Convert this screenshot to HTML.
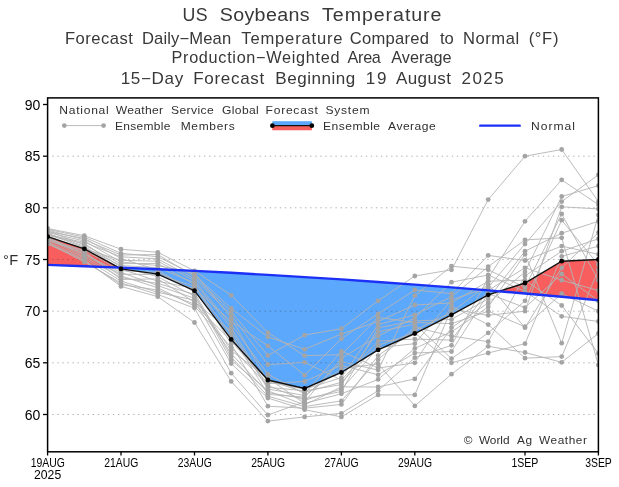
<!DOCTYPE html>
<html><head><meta charset="utf-8"><title>US Soybeans Temperature</title>
<style>html,body{margin:0;padding:0;background:#fff;}svg{display:block;}</style></head>
<body>
<svg width="619" height="487" viewBox="0 0 619 487">
<rect width="619" height="487" fill="#fff"/>
<polygon points="47.60,236.70 84.32,248.80 118.49,267.50 118.49,267.50 84.32,266.16 47.60,264.88" fill="#f95e5e"/>
<polygon points="118.49,267.50 121.04,268.90 157.76,274.10 194.48,290.70 231.20,339.40 267.92,380.00 304.64,388.50 341.36,372.50 378.08,349.90 414.80,333.50 451.52,314.80 488.24,294.80 499.08,291.32 499.08,291.32 488.24,290.40 451.52,287.43 414.80,284.61 378.08,281.95 341.36,279.44 304.64,277.09 267.92,274.88 231.20,272.83 194.48,270.94 157.76,269.19 121.04,267.60 118.49,267.50" fill="#5ca8fd"/>
<polygon points="499.08,291.32 524.96,283.00 561.68,261.20 598.40,259.50 598.40,300.22 561.68,296.79 524.96,293.52 499.08,291.32" fill="#f95e5e"/>
<line x1="52.25" y1="156.2" x2="598.4" y2="156.2" stroke="#444" stroke-width="0.7" stroke-dasharray="1.4 3.657" stroke-opacity="0.6"/>
<line x1="52.25" y1="207.8" x2="598.4" y2="207.8" stroke="#444" stroke-width="0.7" stroke-dasharray="1.4 3.657" stroke-opacity="0.6"/>
<line x1="52.25" y1="259.5" x2="598.4" y2="259.5" stroke="#444" stroke-width="0.7" stroke-dasharray="1.4 3.657" stroke-opacity="0.6"/>
<line x1="52.25" y1="311.2" x2="598.4" y2="311.2" stroke="#444" stroke-width="0.7" stroke-dasharray="1.4 3.657" stroke-opacity="0.6"/>
<line x1="52.25" y1="362.8" x2="598.4" y2="362.8" stroke="#444" stroke-width="0.7" stroke-dasharray="1.4 3.657" stroke-opacity="0.6"/>
<line x1="52.25" y1="414.5" x2="598.4" y2="414.5" stroke="#444" stroke-width="0.7" stroke-dasharray="1.4 3.657" stroke-opacity="0.6"/>
<g fill="none" stroke="#b4b4b4" stroke-width="0.9" stroke-linejoin="round">
<polyline points="47.6,228.5 84.3,235.7 121.0,249.2 157.8,252.3 194.5,270.9 231.2,295.3 267.9,332.6 304.6,355.7 341.4,354.6 378.1,317.4 414.8,322.5 451.5,323.6 488.2,311.2 525.0,326.7 561.7,293.6 598.4,311.2"/>
<polyline points="47.6,240.1 84.3,252.9 121.0,275.9 157.8,287.8 194.5,306.1 231.2,347.3 267.9,385.5 304.6,400.3 341.4,389.2 378.1,347.7 414.8,343.7 451.5,299.8 488.2,287.4 525.0,244.0 561.7,201.6 598.4,174.8"/>
<polyline points="47.6,235.5 84.3,243.6 121.0,267.2 157.8,276.7 194.5,296.3 231.2,350.5 267.9,378.3 304.6,403.4 341.4,393.8 378.1,379.4 414.8,348.4 451.5,331.8 488.2,307.0 525.0,254.3 561.7,343.2 598.4,215.1"/>
<polyline points="47.6,233.2 84.3,246.3 121.0,269.0 157.8,281.2 194.5,288.5 231.2,321.3 267.9,345.8 304.6,375.2 341.4,338.7 378.1,313.8 414.8,290.0 451.5,293.6 488.2,255.4 525.0,260.5 561.7,246.1 598.4,254.3"/>
<polyline points="47.6,241.7 84.3,258.1 121.0,281.1 157.8,292.3 194.5,300.2 231.2,363.5 267.9,398.0 304.6,409.7 341.4,416.9 378.1,394.9 414.8,394.9 451.5,309.1 488.2,315.3 525.0,311.2 561.7,206.8 598.4,208.9"/>
<polyline points="47.6,236.3 84.3,248.9 121.0,260.3 157.8,261.2 194.5,280.7 231.2,324.6 267.9,374.2 304.6,393.9 341.4,351.1 378.1,368.0 414.8,362.8 451.5,306.0 488.2,324.6 525.0,358.2 561.7,356.6 598.4,269.8"/>
<polyline points="47.6,237.0 84.3,254.2 121.0,272.4 157.8,285.6 194.5,298.3 231.2,353.7 267.9,392.6 304.6,398.7 341.4,391.5 378.1,327.7 414.8,321.0 451.5,319.4 488.2,298.8 525.0,251.2 561.7,233.2 598.4,221.3"/>
<polyline points="47.6,244.0 84.3,260.8 121.0,284.6 157.8,290.0 194.5,304.2 231.2,340.8 267.9,383.7 304.6,381.4 341.4,365.3 378.1,374.8 414.8,353.0 451.5,351.5 488.2,293.6 525.0,307.6 561.7,274.0 598.4,300.8"/>
<polyline points="47.6,230.1 84.3,239.7 121.0,255.0 157.8,254.5 194.5,276.7 231.2,311.6 267.9,355.4 304.6,335.1 341.4,328.7 378.1,300.8 414.8,276.0 451.5,269.8 488.2,199.6 525.0,156.2 561.7,149.5 598.4,201.6"/>
<polyline points="47.6,230.8 84.3,245.0 121.0,263.7 157.8,263.4 194.5,284.6 231.2,344.0 267.9,406.2 304.6,408.2 341.4,404.4 378.1,355.6 414.8,330.3 451.5,312.2 488.2,284.3 525.0,327.7 561.7,267.8 598.4,232.6"/>
<polyline points="47.6,240.9 84.3,250.2 121.0,270.7 157.8,272.3 194.5,290.4 231.2,337.5 267.9,380.1 304.6,392.3 341.4,382.3 378.1,345.3 414.8,332.9 451.5,362.8 488.2,353.0 525.0,343.7 561.7,256.4 598.4,246.1"/>
<polyline points="47.6,237.8 84.3,255.5 121.0,274.2 157.8,274.5 194.5,286.5 231.2,334.3 267.9,394.4 304.6,397.1 341.4,361.7 378.1,370.1 414.8,295.7 451.5,266.2 488.2,269.8 525.0,287.4 561.7,214.0 598.4,280.2"/>
<polyline points="47.6,232.4 84.3,241.0 121.0,262.0 157.8,265.6 194.5,272.8 231.2,318.1 267.9,381.9 304.6,389.2 341.4,377.7 378.1,324.6 414.8,314.8 451.5,296.7 488.2,266.7 525.0,239.9 561.7,237.8 598.4,364.9"/>
<polyline points="47.6,239.4 84.3,256.8 121.0,277.7 157.8,283.4 194.5,294.4 231.2,360.2 267.9,390.8 304.6,405.0 341.4,386.9 378.1,387.0 414.8,378.9 451.5,327.7 488.2,302.9 525.0,271.9 561.7,196.5 598.4,185.6"/>
<polyline points="47.6,238.6 84.3,251.5 121.0,279.4 157.8,278.9 194.5,302.2 231.2,331.1 267.9,389.0 304.6,395.5 341.4,368.8 378.1,363.9 414.8,405.9 451.5,374.2 488.2,346.3 525.0,352.5 561.7,362.3 598.4,333.4"/>
<polyline points="47.6,242.5 84.3,262.1 121.0,282.9 157.8,294.5 194.5,308.1 231.2,373.2 267.9,415.0 304.6,401.8 341.4,358.2 378.1,336.0 414.8,317.9 451.5,282.2 488.2,275.0 525.0,291.5 561.7,316.3 598.4,321.5"/>
<polyline points="47.6,231.6 84.3,238.4 121.0,258.5 157.8,270.0 194.5,292.4 231.2,357.0 267.9,396.2 304.6,406.6 341.4,400.9 378.1,359.7 414.8,327.2 451.5,336.0 488.2,341.7 525.0,276.0 561.7,251.2 598.4,238.8"/>
<polyline points="47.6,234.7 84.3,242.3 121.0,256.8 157.8,258.9 194.5,278.7 231.2,314.9 267.9,364.6 304.6,362.4 341.4,380.0 378.1,341.1 414.8,339.1 451.5,340.1 488.2,290.5 525.0,267.8 561.7,280.2 598.4,290.5"/>
<polyline points="47.6,233.9 84.3,247.6 121.0,265.5 157.8,267.8 194.5,282.6 231.2,327.8 267.9,387.3 304.6,390.8 341.4,384.6 378.1,331.8 414.8,324.1 451.5,358.7 488.2,332.9 525.0,300.8 561.7,220.2 598.4,264.7"/>
<polyline points="47.6,243.2 84.3,259.5 121.0,286.4 157.8,296.7 194.5,322.5 231.2,381.4 267.9,421.1 304.6,416.9 341.4,413.3 378.1,390.7 414.8,357.7 451.5,345.3 488.2,278.1 525.0,221.3 561.7,179.9 598.4,204.7"/>
<polyline points="47.6,229.3 84.3,237.1 121.0,253.3 157.8,256.7 194.5,274.8 231.2,308.4 267.9,336.9 304.6,349.3 341.4,334.0 378.1,321.5 414.8,305.0 451.5,302.9 488.2,281.2 525.0,280.2 561.7,305.5 598.4,353.5"/>
</g>
<g fill="#a4a4a4">
<circle cx="47.6" cy="228.5" r="2.4"/>
<circle cx="84.3" cy="235.7" r="2.4"/>
<circle cx="121.0" cy="249.2" r="2.4"/>
<circle cx="157.8" cy="252.3" r="2.4"/>
<circle cx="194.5" cy="270.9" r="2.4"/>
<circle cx="231.2" cy="295.3" r="2.4"/>
<circle cx="267.9" cy="332.6" r="2.4"/>
<circle cx="304.6" cy="355.7" r="2.4"/>
<circle cx="341.4" cy="354.6" r="2.4"/>
<circle cx="378.1" cy="317.4" r="2.4"/>
<circle cx="414.8" cy="322.5" r="2.4"/>
<circle cx="451.5" cy="323.6" r="2.4"/>
<circle cx="488.2" cy="311.2" r="2.4"/>
<circle cx="525.0" cy="326.7" r="2.4"/>
<circle cx="561.7" cy="293.6" r="2.4"/>
<circle cx="598.4" cy="311.2" r="2.4"/>
<circle cx="47.6" cy="240.1" r="2.4"/>
<circle cx="84.3" cy="252.9" r="2.4"/>
<circle cx="121.0" cy="275.9" r="2.4"/>
<circle cx="157.8" cy="287.8" r="2.4"/>
<circle cx="194.5" cy="306.1" r="2.4"/>
<circle cx="231.2" cy="347.3" r="2.4"/>
<circle cx="267.9" cy="385.5" r="2.4"/>
<circle cx="304.6" cy="400.3" r="2.4"/>
<circle cx="341.4" cy="389.2" r="2.4"/>
<circle cx="378.1" cy="347.7" r="2.4"/>
<circle cx="414.8" cy="343.7" r="2.4"/>
<circle cx="451.5" cy="299.8" r="2.4"/>
<circle cx="488.2" cy="287.4" r="2.4"/>
<circle cx="525.0" cy="244.0" r="2.4"/>
<circle cx="561.7" cy="201.6" r="2.4"/>
<circle cx="598.4" cy="174.8" r="2.4"/>
<circle cx="47.6" cy="235.5" r="2.4"/>
<circle cx="84.3" cy="243.6" r="2.4"/>
<circle cx="121.0" cy="267.2" r="2.4"/>
<circle cx="157.8" cy="276.7" r="2.4"/>
<circle cx="194.5" cy="296.3" r="2.4"/>
<circle cx="231.2" cy="350.5" r="2.4"/>
<circle cx="267.9" cy="378.3" r="2.4"/>
<circle cx="304.6" cy="403.4" r="2.4"/>
<circle cx="341.4" cy="393.8" r="2.4"/>
<circle cx="378.1" cy="379.4" r="2.4"/>
<circle cx="414.8" cy="348.4" r="2.4"/>
<circle cx="451.5" cy="331.8" r="2.4"/>
<circle cx="488.2" cy="307.0" r="2.4"/>
<circle cx="525.0" cy="254.3" r="2.4"/>
<circle cx="561.7" cy="343.2" r="2.4"/>
<circle cx="598.4" cy="215.1" r="2.4"/>
<circle cx="47.6" cy="233.2" r="2.4"/>
<circle cx="84.3" cy="246.3" r="2.4"/>
<circle cx="121.0" cy="269.0" r="2.4"/>
<circle cx="157.8" cy="281.2" r="2.4"/>
<circle cx="194.5" cy="288.5" r="2.4"/>
<circle cx="231.2" cy="321.3" r="2.4"/>
<circle cx="267.9" cy="345.8" r="2.4"/>
<circle cx="304.6" cy="375.2" r="2.4"/>
<circle cx="341.4" cy="338.7" r="2.4"/>
<circle cx="378.1" cy="313.8" r="2.4"/>
<circle cx="414.8" cy="290.0" r="2.4"/>
<circle cx="451.5" cy="293.6" r="2.4"/>
<circle cx="488.2" cy="255.4" r="2.4"/>
<circle cx="525.0" cy="260.5" r="2.4"/>
<circle cx="561.7" cy="246.1" r="2.4"/>
<circle cx="598.4" cy="254.3" r="2.4"/>
<circle cx="47.6" cy="241.7" r="2.4"/>
<circle cx="84.3" cy="258.1" r="2.4"/>
<circle cx="121.0" cy="281.1" r="2.4"/>
<circle cx="157.8" cy="292.3" r="2.4"/>
<circle cx="194.5" cy="300.2" r="2.4"/>
<circle cx="231.2" cy="363.5" r="2.4"/>
<circle cx="267.9" cy="398.0" r="2.4"/>
<circle cx="304.6" cy="409.7" r="2.4"/>
<circle cx="341.4" cy="416.9" r="2.4"/>
<circle cx="378.1" cy="394.9" r="2.4"/>
<circle cx="414.8" cy="394.9" r="2.4"/>
<circle cx="451.5" cy="309.1" r="2.4"/>
<circle cx="488.2" cy="315.3" r="2.4"/>
<circle cx="525.0" cy="311.2" r="2.4"/>
<circle cx="561.7" cy="206.8" r="2.4"/>
<circle cx="598.4" cy="208.9" r="2.4"/>
<circle cx="47.6" cy="236.3" r="2.4"/>
<circle cx="84.3" cy="248.9" r="2.4"/>
<circle cx="121.0" cy="260.3" r="2.4"/>
<circle cx="157.8" cy="261.2" r="2.4"/>
<circle cx="194.5" cy="280.7" r="2.4"/>
<circle cx="231.2" cy="324.6" r="2.4"/>
<circle cx="267.9" cy="374.2" r="2.4"/>
<circle cx="304.6" cy="393.9" r="2.4"/>
<circle cx="341.4" cy="351.1" r="2.4"/>
<circle cx="378.1" cy="368.0" r="2.4"/>
<circle cx="414.8" cy="362.8" r="2.4"/>
<circle cx="451.5" cy="306.0" r="2.4"/>
<circle cx="488.2" cy="324.6" r="2.4"/>
<circle cx="525.0" cy="358.2" r="2.4"/>
<circle cx="561.7" cy="356.6" r="2.4"/>
<circle cx="598.4" cy="269.8" r="2.4"/>
<circle cx="47.6" cy="237.0" r="2.4"/>
<circle cx="84.3" cy="254.2" r="2.4"/>
<circle cx="121.0" cy="272.4" r="2.4"/>
<circle cx="157.8" cy="285.6" r="2.4"/>
<circle cx="194.5" cy="298.3" r="2.4"/>
<circle cx="231.2" cy="353.7" r="2.4"/>
<circle cx="267.9" cy="392.6" r="2.4"/>
<circle cx="304.6" cy="398.7" r="2.4"/>
<circle cx="341.4" cy="391.5" r="2.4"/>
<circle cx="378.1" cy="327.7" r="2.4"/>
<circle cx="414.8" cy="321.0" r="2.4"/>
<circle cx="451.5" cy="319.4" r="2.4"/>
<circle cx="488.2" cy="298.8" r="2.4"/>
<circle cx="525.0" cy="251.2" r="2.4"/>
<circle cx="561.7" cy="233.2" r="2.4"/>
<circle cx="598.4" cy="221.3" r="2.4"/>
<circle cx="47.6" cy="244.0" r="2.4"/>
<circle cx="84.3" cy="260.8" r="2.4"/>
<circle cx="121.0" cy="284.6" r="2.4"/>
<circle cx="157.8" cy="290.0" r="2.4"/>
<circle cx="194.5" cy="304.2" r="2.4"/>
<circle cx="231.2" cy="340.8" r="2.4"/>
<circle cx="267.9" cy="383.7" r="2.4"/>
<circle cx="304.6" cy="381.4" r="2.4"/>
<circle cx="341.4" cy="365.3" r="2.4"/>
<circle cx="378.1" cy="374.8" r="2.4"/>
<circle cx="414.8" cy="353.0" r="2.4"/>
<circle cx="451.5" cy="351.5" r="2.4"/>
<circle cx="488.2" cy="293.6" r="2.4"/>
<circle cx="525.0" cy="307.6" r="2.4"/>
<circle cx="561.7" cy="274.0" r="2.4"/>
<circle cx="598.4" cy="300.8" r="2.4"/>
<circle cx="47.6" cy="230.1" r="2.4"/>
<circle cx="84.3" cy="239.7" r="2.4"/>
<circle cx="121.0" cy="255.0" r="2.4"/>
<circle cx="157.8" cy="254.5" r="2.4"/>
<circle cx="194.5" cy="276.7" r="2.4"/>
<circle cx="231.2" cy="311.6" r="2.4"/>
<circle cx="267.9" cy="355.4" r="2.4"/>
<circle cx="304.6" cy="335.1" r="2.4"/>
<circle cx="341.4" cy="328.7" r="2.4"/>
<circle cx="378.1" cy="300.8" r="2.4"/>
<circle cx="414.8" cy="276.0" r="2.4"/>
<circle cx="451.5" cy="269.8" r="2.4"/>
<circle cx="488.2" cy="199.6" r="2.4"/>
<circle cx="525.0" cy="156.2" r="2.4"/>
<circle cx="561.7" cy="149.5" r="2.4"/>
<circle cx="598.4" cy="201.6" r="2.4"/>
<circle cx="47.6" cy="230.8" r="2.4"/>
<circle cx="84.3" cy="245.0" r="2.4"/>
<circle cx="121.0" cy="263.7" r="2.4"/>
<circle cx="157.8" cy="263.4" r="2.4"/>
<circle cx="194.5" cy="284.6" r="2.4"/>
<circle cx="231.2" cy="344.0" r="2.4"/>
<circle cx="267.9" cy="406.2" r="2.4"/>
<circle cx="304.6" cy="408.2" r="2.4"/>
<circle cx="341.4" cy="404.4" r="2.4"/>
<circle cx="378.1" cy="355.6" r="2.4"/>
<circle cx="414.8" cy="330.3" r="2.4"/>
<circle cx="451.5" cy="312.2" r="2.4"/>
<circle cx="488.2" cy="284.3" r="2.4"/>
<circle cx="525.0" cy="327.7" r="2.4"/>
<circle cx="561.7" cy="267.8" r="2.4"/>
<circle cx="598.4" cy="232.6" r="2.4"/>
<circle cx="47.6" cy="240.9" r="2.4"/>
<circle cx="84.3" cy="250.2" r="2.4"/>
<circle cx="121.0" cy="270.7" r="2.4"/>
<circle cx="157.8" cy="272.3" r="2.4"/>
<circle cx="194.5" cy="290.4" r="2.4"/>
<circle cx="231.2" cy="337.5" r="2.4"/>
<circle cx="267.9" cy="380.1" r="2.4"/>
<circle cx="304.6" cy="392.3" r="2.4"/>
<circle cx="341.4" cy="382.3" r="2.4"/>
<circle cx="378.1" cy="345.3" r="2.4"/>
<circle cx="414.8" cy="332.9" r="2.4"/>
<circle cx="451.5" cy="362.8" r="2.4"/>
<circle cx="488.2" cy="353.0" r="2.4"/>
<circle cx="525.0" cy="343.7" r="2.4"/>
<circle cx="561.7" cy="256.4" r="2.4"/>
<circle cx="598.4" cy="246.1" r="2.4"/>
<circle cx="47.6" cy="237.8" r="2.4"/>
<circle cx="84.3" cy="255.5" r="2.4"/>
<circle cx="121.0" cy="274.2" r="2.4"/>
<circle cx="157.8" cy="274.5" r="2.4"/>
<circle cx="194.5" cy="286.5" r="2.4"/>
<circle cx="231.2" cy="334.3" r="2.4"/>
<circle cx="267.9" cy="394.4" r="2.4"/>
<circle cx="304.6" cy="397.1" r="2.4"/>
<circle cx="341.4" cy="361.7" r="2.4"/>
<circle cx="378.1" cy="370.1" r="2.4"/>
<circle cx="414.8" cy="295.7" r="2.4"/>
<circle cx="451.5" cy="266.2" r="2.4"/>
<circle cx="488.2" cy="269.8" r="2.4"/>
<circle cx="525.0" cy="287.4" r="2.4"/>
<circle cx="561.7" cy="214.0" r="2.4"/>
<circle cx="598.4" cy="280.2" r="2.4"/>
<circle cx="47.6" cy="232.4" r="2.4"/>
<circle cx="84.3" cy="241.0" r="2.4"/>
<circle cx="121.0" cy="262.0" r="2.4"/>
<circle cx="157.8" cy="265.6" r="2.4"/>
<circle cx="194.5" cy="272.8" r="2.4"/>
<circle cx="231.2" cy="318.1" r="2.4"/>
<circle cx="267.9" cy="381.9" r="2.4"/>
<circle cx="304.6" cy="389.2" r="2.4"/>
<circle cx="341.4" cy="377.7" r="2.4"/>
<circle cx="378.1" cy="324.6" r="2.4"/>
<circle cx="414.8" cy="314.8" r="2.4"/>
<circle cx="451.5" cy="296.7" r="2.4"/>
<circle cx="488.2" cy="266.7" r="2.4"/>
<circle cx="525.0" cy="239.9" r="2.4"/>
<circle cx="561.7" cy="237.8" r="2.4"/>
<circle cx="598.4" cy="364.9" r="2.4"/>
<circle cx="47.6" cy="239.4" r="2.4"/>
<circle cx="84.3" cy="256.8" r="2.4"/>
<circle cx="121.0" cy="277.7" r="2.4"/>
<circle cx="157.8" cy="283.4" r="2.4"/>
<circle cx="194.5" cy="294.4" r="2.4"/>
<circle cx="231.2" cy="360.2" r="2.4"/>
<circle cx="267.9" cy="390.8" r="2.4"/>
<circle cx="304.6" cy="405.0" r="2.4"/>
<circle cx="341.4" cy="386.9" r="2.4"/>
<circle cx="378.1" cy="387.0" r="2.4"/>
<circle cx="414.8" cy="378.9" r="2.4"/>
<circle cx="451.5" cy="327.7" r="2.4"/>
<circle cx="488.2" cy="302.9" r="2.4"/>
<circle cx="525.0" cy="271.9" r="2.4"/>
<circle cx="561.7" cy="196.5" r="2.4"/>
<circle cx="598.4" cy="185.6" r="2.4"/>
<circle cx="47.6" cy="238.6" r="2.4"/>
<circle cx="84.3" cy="251.5" r="2.4"/>
<circle cx="121.0" cy="279.4" r="2.4"/>
<circle cx="157.8" cy="278.9" r="2.4"/>
<circle cx="194.5" cy="302.2" r="2.4"/>
<circle cx="231.2" cy="331.1" r="2.4"/>
<circle cx="267.9" cy="389.0" r="2.4"/>
<circle cx="304.6" cy="395.5" r="2.4"/>
<circle cx="341.4" cy="368.8" r="2.4"/>
<circle cx="378.1" cy="363.9" r="2.4"/>
<circle cx="414.8" cy="405.9" r="2.4"/>
<circle cx="451.5" cy="374.2" r="2.4"/>
<circle cx="488.2" cy="346.3" r="2.4"/>
<circle cx="525.0" cy="352.5" r="2.4"/>
<circle cx="561.7" cy="362.3" r="2.4"/>
<circle cx="598.4" cy="333.4" r="2.4"/>
<circle cx="47.6" cy="242.5" r="2.4"/>
<circle cx="84.3" cy="262.1" r="2.4"/>
<circle cx="121.0" cy="282.9" r="2.4"/>
<circle cx="157.8" cy="294.5" r="2.4"/>
<circle cx="194.5" cy="308.1" r="2.4"/>
<circle cx="231.2" cy="373.2" r="2.4"/>
<circle cx="267.9" cy="415.0" r="2.4"/>
<circle cx="304.6" cy="401.8" r="2.4"/>
<circle cx="341.4" cy="358.2" r="2.4"/>
<circle cx="378.1" cy="336.0" r="2.4"/>
<circle cx="414.8" cy="317.9" r="2.4"/>
<circle cx="451.5" cy="282.2" r="2.4"/>
<circle cx="488.2" cy="275.0" r="2.4"/>
<circle cx="525.0" cy="291.5" r="2.4"/>
<circle cx="561.7" cy="316.3" r="2.4"/>
<circle cx="598.4" cy="321.5" r="2.4"/>
<circle cx="47.6" cy="231.6" r="2.4"/>
<circle cx="84.3" cy="238.4" r="2.4"/>
<circle cx="121.0" cy="258.5" r="2.4"/>
<circle cx="157.8" cy="270.0" r="2.4"/>
<circle cx="194.5" cy="292.4" r="2.4"/>
<circle cx="231.2" cy="357.0" r="2.4"/>
<circle cx="267.9" cy="396.2" r="2.4"/>
<circle cx="304.6" cy="406.6" r="2.4"/>
<circle cx="341.4" cy="400.9" r="2.4"/>
<circle cx="378.1" cy="359.7" r="2.4"/>
<circle cx="414.8" cy="327.2" r="2.4"/>
<circle cx="451.5" cy="336.0" r="2.4"/>
<circle cx="488.2" cy="341.7" r="2.4"/>
<circle cx="525.0" cy="276.0" r="2.4"/>
<circle cx="561.7" cy="251.2" r="2.4"/>
<circle cx="598.4" cy="238.8" r="2.4"/>
<circle cx="47.6" cy="234.7" r="2.4"/>
<circle cx="84.3" cy="242.3" r="2.4"/>
<circle cx="121.0" cy="256.8" r="2.4"/>
<circle cx="157.8" cy="258.9" r="2.4"/>
<circle cx="194.5" cy="278.7" r="2.4"/>
<circle cx="231.2" cy="314.9" r="2.4"/>
<circle cx="267.9" cy="364.6" r="2.4"/>
<circle cx="304.6" cy="362.4" r="2.4"/>
<circle cx="341.4" cy="380.0" r="2.4"/>
<circle cx="378.1" cy="341.1" r="2.4"/>
<circle cx="414.8" cy="339.1" r="2.4"/>
<circle cx="451.5" cy="340.1" r="2.4"/>
<circle cx="488.2" cy="290.5" r="2.4"/>
<circle cx="525.0" cy="267.8" r="2.4"/>
<circle cx="561.7" cy="280.2" r="2.4"/>
<circle cx="598.4" cy="290.5" r="2.4"/>
<circle cx="47.6" cy="233.9" r="2.4"/>
<circle cx="84.3" cy="247.6" r="2.4"/>
<circle cx="121.0" cy="265.5" r="2.4"/>
<circle cx="157.8" cy="267.8" r="2.4"/>
<circle cx="194.5" cy="282.6" r="2.4"/>
<circle cx="231.2" cy="327.8" r="2.4"/>
<circle cx="267.9" cy="387.3" r="2.4"/>
<circle cx="304.6" cy="390.8" r="2.4"/>
<circle cx="341.4" cy="384.6" r="2.4"/>
<circle cx="378.1" cy="331.8" r="2.4"/>
<circle cx="414.8" cy="324.1" r="2.4"/>
<circle cx="451.5" cy="358.7" r="2.4"/>
<circle cx="488.2" cy="332.9" r="2.4"/>
<circle cx="525.0" cy="300.8" r="2.4"/>
<circle cx="561.7" cy="220.2" r="2.4"/>
<circle cx="598.4" cy="264.7" r="2.4"/>
<circle cx="47.6" cy="243.2" r="2.4"/>
<circle cx="84.3" cy="259.5" r="2.4"/>
<circle cx="121.0" cy="286.4" r="2.4"/>
<circle cx="157.8" cy="296.7" r="2.4"/>
<circle cx="194.5" cy="322.5" r="2.4"/>
<circle cx="231.2" cy="381.4" r="2.4"/>
<circle cx="267.9" cy="421.1" r="2.4"/>
<circle cx="304.6" cy="416.9" r="2.4"/>
<circle cx="341.4" cy="413.3" r="2.4"/>
<circle cx="378.1" cy="390.7" r="2.4"/>
<circle cx="414.8" cy="357.7" r="2.4"/>
<circle cx="451.5" cy="345.3" r="2.4"/>
<circle cx="488.2" cy="278.1" r="2.4"/>
<circle cx="525.0" cy="221.3" r="2.4"/>
<circle cx="561.7" cy="179.9" r="2.4"/>
<circle cx="598.4" cy="204.7" r="2.4"/>
<circle cx="47.6" cy="229.3" r="2.4"/>
<circle cx="84.3" cy="237.1" r="2.4"/>
<circle cx="121.0" cy="253.3" r="2.4"/>
<circle cx="157.8" cy="256.7" r="2.4"/>
<circle cx="194.5" cy="274.8" r="2.4"/>
<circle cx="231.2" cy="308.4" r="2.4"/>
<circle cx="267.9" cy="336.9" r="2.4"/>
<circle cx="304.6" cy="349.3" r="2.4"/>
<circle cx="341.4" cy="334.0" r="2.4"/>
<circle cx="378.1" cy="321.5" r="2.4"/>
<circle cx="414.8" cy="305.0" r="2.4"/>
<circle cx="451.5" cy="302.9" r="2.4"/>
<circle cx="488.2" cy="281.2" r="2.4"/>
<circle cx="525.0" cy="280.2" r="2.4"/>
<circle cx="561.7" cy="305.5" r="2.4"/>
<circle cx="598.4" cy="353.5" r="2.4"/>
</g>
<polyline points="47.6,236.7 84.3,248.8 121.0,268.9 157.8,274.1 194.5,290.7 231.2,339.4 267.9,380.0 304.6,388.5 341.4,372.5 378.1,349.9 414.8,333.5 451.5,314.8 488.2,294.8 525.0,283.0 561.7,261.2 598.4,259.5" fill="none" stroke="#111" stroke-width="1.4"/>
<polyline points="47.6,264.9 84.3,266.2 121.0,267.6 157.8,269.2 194.5,270.9 231.2,272.8 267.9,274.9 304.6,277.1 341.4,279.4 378.1,282.0 414.8,284.6 451.5,287.4 488.2,290.4 525.0,293.5 561.7,296.8 598.4,300.2" fill="none" stroke="#1c30f5" stroke-width="2.4"/>
<circle cx="47.6" cy="236.7" r="2.4" fill="#000"/>
<circle cx="84.3" cy="248.8" r="2.4" fill="#000"/>
<circle cx="121.0" cy="268.9" r="2.4" fill="#000"/>
<circle cx="157.8" cy="274.1" r="2.4" fill="#000"/>
<circle cx="194.5" cy="290.7" r="2.4" fill="#000"/>
<circle cx="231.2" cy="339.4" r="2.4" fill="#000"/>
<circle cx="267.9" cy="380.0" r="2.4" fill="#000"/>
<circle cx="304.6" cy="388.5" r="2.4" fill="#000"/>
<circle cx="341.4" cy="372.5" r="2.4" fill="#000"/>
<circle cx="378.1" cy="349.9" r="2.4" fill="#000"/>
<circle cx="414.8" cy="333.5" r="2.4" fill="#000"/>
<circle cx="451.5" cy="314.8" r="2.4" fill="#000"/>
<circle cx="488.2" cy="294.8" r="2.4" fill="#000"/>
<circle cx="525.0" cy="283.0" r="2.4" fill="#000"/>
<circle cx="561.7" cy="261.2" r="2.4" fill="#000"/>
<circle cx="598.4" cy="259.5" r="2.4" fill="#000"/>
<rect x="0" y="97.9" width="47.6" height="353.9" fill="#fff"/>
<rect x="598.4" y="97.9" width="20.600000000000023" height="353.9" fill="#fff"/>
<rect x="47.6" y="97.9" width="550.8" height="353.9" fill="none" stroke="#000" stroke-width="1.5"/>
<line x1="43" y1="104.5" x2="47.6" y2="104.5" stroke="#000" stroke-width="1.3"/>
<line x1="43" y1="156.2" x2="47.6" y2="156.2" stroke="#000" stroke-width="1.3"/>
<line x1="43" y1="207.8" x2="47.6" y2="207.8" stroke="#000" stroke-width="1.3"/>
<line x1="43" y1="259.5" x2="47.6" y2="259.5" stroke="#000" stroke-width="1.3"/>
<line x1="43" y1="311.2" x2="47.6" y2="311.2" stroke="#000" stroke-width="1.3"/>
<line x1="43" y1="362.8" x2="47.6" y2="362.8" stroke="#000" stroke-width="1.3"/>
<line x1="43" y1="414.5" x2="47.6" y2="414.5" stroke="#000" stroke-width="1.3"/>
<line x1="47.6" y1="451.8" x2="47.6" y2="455.5" stroke="#000" stroke-width="1.3"/>
<line x1="121.0" y1="451.8" x2="121.0" y2="455.5" stroke="#000" stroke-width="1.3"/>
<line x1="194.5" y1="451.8" x2="194.5" y2="455.5" stroke="#000" stroke-width="1.3"/>
<line x1="267.9" y1="451.8" x2="267.9" y2="455.5" stroke="#000" stroke-width="1.3"/>
<line x1="341.4" y1="451.8" x2="341.4" y2="455.5" stroke="#000" stroke-width="1.3"/>
<line x1="414.8" y1="451.8" x2="414.8" y2="455.5" stroke="#000" stroke-width="1.3"/>
<line x1="525.0" y1="451.8" x2="525.0" y2="455.5" stroke="#000" stroke-width="1.3"/>
<line x1="598.4" y1="451.8" x2="598.4" y2="455.5" stroke="#000" stroke-width="1.3"/>
<g font-family="'Liberation Sans', sans-serif">
<text transform="translate(0,20.7) scale(0.94,1)" font-size="18.9" fill="#383838"><tspan x="194.24" letter-spacing="0.294">US</tspan></text>
<text transform="translate(0,20.7) scale(1.04,1)" font-size="18.9" fill="#383838"><tspan x="211.24" letter-spacing="0.344">Soybeans</tspan> <tspan x="309.70" letter-spacing="0.881">Temperature</tspan></text>
<text transform="translate(0,43.6) scale(1.03,1)" font-size="16.1" fill="#383838"><tspan x="63.11" letter-spacing="0.462">Forecast</tspan> <tspan x="137.87" letter-spacing="0.130">Daily−Mean</tspan> <tspan x="234.31" letter-spacing="0.790">Temperature</tspan> <tspan x="339.54" letter-spacing="0.261">Compared</tspan> <tspan x="427.09" letter-spacing="-0.056">to</tspan> <tspan x="449.42" letter-spacing="0.553">Normal</tspan> <tspan x="513.23" letter-spacing="0.657">(°F)</tspan></text>
<text transform="translate(0,63.3) scale(1.01,1)" font-size="16.1" fill="#383838"><tspan x="169.83" letter-spacing="0.679">Production−Weighted</tspan> <tspan x="344.16" letter-spacing="-0.347">Area</tspan> <tspan x="387.33" letter-spacing="0.031">Average</tspan></text>
<text transform="translate(0,83.5) scale(1.06,1)" font-size="16.1" fill="#383838"><tspan x="113.90" letter-spacing="0.617">15−Day</tspan> <tspan x="182.33" letter-spacing="0.632">Forecast</tspan> <tspan x="259.78" letter-spacing="0.469">Beginning</tspan> <tspan x="344.94" letter-spacing="1.770">19</tspan> <tspan x="373.58" letter-spacing="0.342">August</tspan> <tspan x="435.38" letter-spacing="1.329">2025</tspan></text>
<text transform="translate(0,114.3) scale(1.08,1)" font-size="11.2" fill="#303030"><tspan x="54.87" letter-spacing="0.683">National</tspan> <tspan x="107.13" letter-spacing="0.288">Weather</tspan> <tspan x="158.26" letter-spacing="0.391">Service</tspan> <tspan x="205.59" letter-spacing="0.333">Global</tspan> <tspan x="245.88" letter-spacing="0.694">Forecast</tspan> <tspan x="301.41" letter-spacing="0.681">System</tspan></text>
<text transform="translate(0,129.8) scale(1.07,1)" font-size="11.2" fill="#303030"><tspan x="107.44" letter-spacing="0.298">Ensemble</tspan> <tspan x="168.84" letter-spacing="0.649">Members</tspan></text>
<text transform="translate(0,129.8) scale(1.08,1)" font-size="11.2" fill="#303030"><tspan x="299.12" letter-spacing="0.429">Ensemble</tspan> <tspan x="359.35" letter-spacing="0.425">Average</tspan></text>
<text transform="translate(0,129.8) scale(1.08,1)" font-size="11.2" fill="#303030"><tspan x="491.62" letter-spacing="0.956">Normal</tspan></text>
<text transform="translate(0,444.3) scale(1.06,1)" font-size="11.2" fill="#303030"><tspan x="437.44" letter-spacing="0.000">©</tspan> <tspan x="451.79" letter-spacing="-0.028">World</tspan> <tspan x="487.83" letter-spacing="0.420">Ag</tspan> <tspan x="508.58" letter-spacing="0.504">Weather</tspan></text>
<text transform="translate(0,265.3) scale(1.05,1)" font-size="14" fill="#303030"><tspan x="2.77" letter-spacing="0.488">°F</tspan></text>
<text x="40.4" y="109.7" font-size="14.0" text-anchor="end" fill="#000">90</text>
<text x="40.4" y="161.4" font-size="14.0" text-anchor="end" fill="#000">85</text>
<text x="40.4" y="213.0" font-size="14.0" text-anchor="end" fill="#000">80</text>
<text x="40.4" y="264.7" font-size="14.0" text-anchor="end" fill="#000">75</text>
<text x="40.4" y="316.4" font-size="14.0" text-anchor="end" fill="#000">70</text>
<text x="40.4" y="368.0" font-size="14.0" text-anchor="end" fill="#000">65</text>
<text x="40.4" y="419.7" font-size="14.0" text-anchor="end" fill="#000">60</text>
<text transform="translate(30.65,467.0) scale(0.8699,1)" font-size="12" fill="#000">19AUG</text>
<text transform="translate(104.25,467.0) scale(0.8656,1)" font-size="12" fill="#000">21AUG</text>
<text transform="translate(177.69,467.0) scale(0.8656,1)" font-size="12" fill="#000">23AUG</text>
<text transform="translate(251.13,467.0) scale(0.8656,1)" font-size="12" fill="#000">25AUG</text>
<text transform="translate(324.57,467.0) scale(0.8656,1)" font-size="12" fill="#000">27AUG</text>
<text transform="translate(398.01,467.0) scale(0.8656,1)" font-size="12" fill="#000">29AUG</text>
<text transform="translate(511.40,467.0) scale(0.8800,1)" font-size="12" fill="#000">1SEP</text>
<text transform="translate(585.17,467.0) scale(0.8689,1)" font-size="12" fill="#000">3SEP</text>
<text transform="translate(34.03,478.6) scale(1.0177,1)" font-size="12" fill="#000">2025</text>
</g>
<line x1="64.3" y1="125.6" x2="103.6" y2="125.6" stroke="#b4b4b4" stroke-width="0.9"/>
<circle cx="64.3" cy="125.6" r="2.4" fill="#a4a4a4"/><circle cx="103.6" cy="125.6" r="2.4" fill="#a4a4a4"/>
<rect x="272.3" y="121.2" width="39.6" height="4.5" fill="#5ca8fd"/>
<rect x="272.3" y="125.65" width="39.6" height="4.6" fill="#f95e5e"/>
<line x1="272.4" y1="125.65" x2="311.8" y2="125.65" stroke="#111" stroke-width="1.4"/>
<circle cx="272.4" cy="125.65" r="2.4" fill="#000"/><circle cx="311.8" cy="125.65" r="2.4" fill="#000"/>
<line x1="480.2" y1="125.65" x2="519.7" y2="125.65" stroke="#1c30f5" stroke-width="2.4" stroke-linecap="round"/>
</svg>
</body></html>
